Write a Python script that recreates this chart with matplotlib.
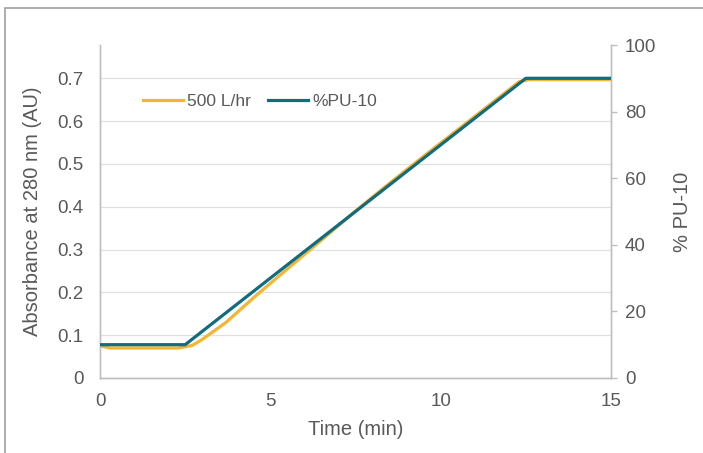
import matplotlib
matplotlib.use("Agg")
import matplotlib.pyplot as plt
from matplotlib.patches import Rectangle

plt.rcParams['font.family'] = ['Liberation Sans', 'DejaVu Sans']

# Absorbance series (500 L/hr)
abs_time = [0, 0.3, 2.3, 2.7, 3.0, 3.7, 4.5, 5.5, 6.5, 7.5, 8.5, 9.5, 10.5, 11.5, 12.3, 12.6, 15]
abs_values = [0.075, 0.070, 0.070, 0.076, 0.090, 0.130, 0.187, 0.255, 0.322, 0.390, 0.455, 0.518, 0.580, 0.642, 0.692, 0.697, 0.697]

# Gradient series (%PU-10)
pu_time = [0, 2.5, 12.5, 15]
pu_values = [10, 10, 90, 90]

x_ticks = [0, 5, 10, 15]
left_ticks = [0, 0.1, 0.2, 0.3, 0.4, 0.5, 0.6, 0.7]
right_ticks = [0, 20, 40, 60, 80, 100]

orange = '#f5b431'
teal = '#116c7f'
grey_txt = '#595959'
spine_c = '#bfbfbf'

fig = plt.figure(figsize=(7.03, 4.53), dpi=100)
fig.patches.append(Rectangle((5/703, -0.1), 1.2, 1 - 8/453 + 0.1, transform=fig.transFigure,
                             fill=False, edgecolor='#a0a0a0', linewidth=1.2, zorder=0))

ax = fig.add_axes([100/703, 1 - 378/453, 511/703, 333/453])
ax2 = ax.twinx()

ax.set_xlim(0, 15)
ax.set_ylim(0, 0.7 / 0.9)
ax2.set_ylim(0, 100)

ax.set_xticks(x_ticks)
ax.set_xticklabels([str(t) for t in x_ticks])
ax.set_yticks(left_ticks)
ax.set_yticklabels(['0'] + [f'{v:.1f}' for v in left_ticks[1:]])
ax2.set_yticks(right_ticks)

ax.grid(axis='y', color='#e0e0e0', linewidth=0.9)
ax.set_axisbelow(True)

for a in (ax, ax2):
    a.spines['top'].set_visible(False)
    for s in ('left', 'right', 'bottom'):
        a.spines[s].set_color(spine_c)
        a.spines[s].set_linewidth(1.0)
    a.tick_params(colors=grey_txt, labelsize=13.5, length=0)
    a.tick_params(axis='both', color=spine_c)
ax2.tick_params(axis='y', length=4, width=1, direction='out', pad=6)
ax.tick_params(axis='y', pad=12)
ax.tick_params(axis='x', pad=11)

l1, = ax.plot(abs_time, abs_values, color=orange, linewidth=2.3, label='500 L/hr', zorder=3)
l2, = ax2.plot(pu_time, pu_values, color=teal, linewidth=2.3, label='%PU-10', zorder=4)

ax.set_xlabel('Time (min)', color=grey_txt, fontsize=14.5, labelpad=7)
ax.set_ylabel('Absorbance at 280 nm (AU)', color=grey_txt, fontsize=14.5, labelpad=11)
ax2.set_ylabel('% PU-10', color=grey_txt, fontsize=14.5, labelpad=12)

ax2.legend(handles=[l1, l2], loc='center left', bbox_to_anchor=(0.084, 0.83), ncol=2,
           frameon=False, fontsize=12.5, handlelength=2.3, columnspacing=1.0,
           handletextpad=0.25, borderpad=0, borderaxespad=0, labelcolor=grey_txt)

fig.savefig('out.png', dpi=100)
